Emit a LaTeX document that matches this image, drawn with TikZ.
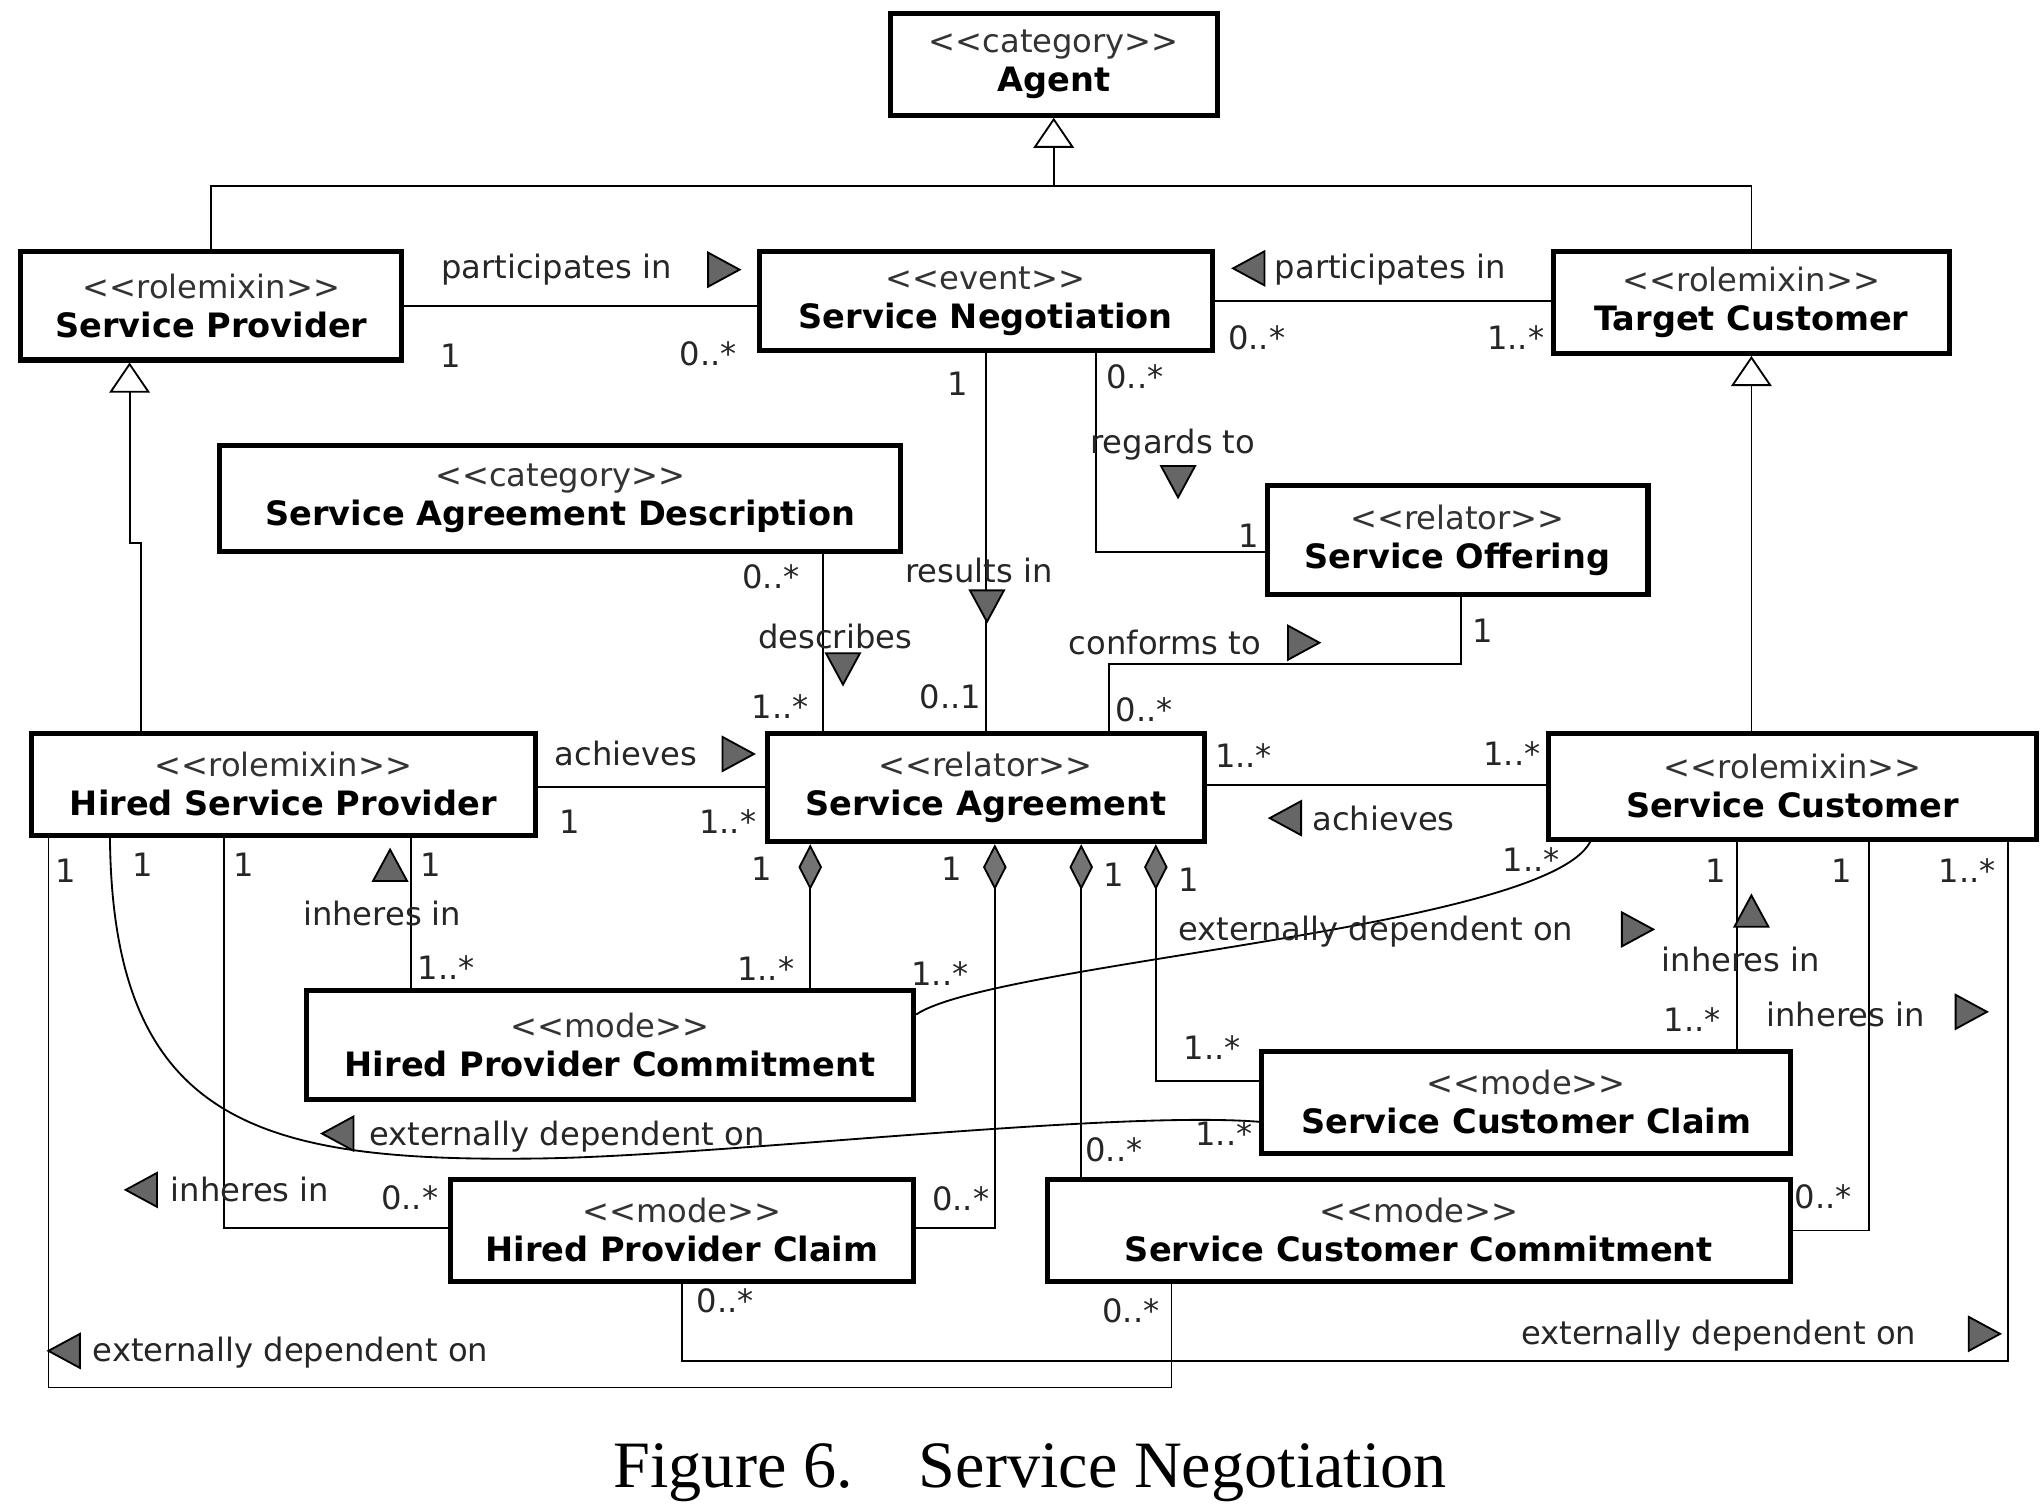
\documentclass[tikz,border=0pt]{standalone}
\usepackage{fontspec}
\setmainfont{DejaVu Sans}
\newfontfamily\capfont{Liberation Serif}
\usetikzlibrary{arrows.meta}

\newcommand\stereo[1]{{\color{black!80}<\kern0pt<#1>\kern0pt>}}
\newcommand\ctitle[1]{{\fontsize{14.6}{17}\selectfont\bfseries #1}}

\tikzset{
  cls/.style 2 args={draw, line width=2.2pt, fill=white, align=center, inner sep=0pt,
    minimum width=#1*0.02cm, minimum height=#2*0.02cm},
  assoc/.style={line width=0.8pt},
  gen/.style={assoc, -{Triangle[open, length=0.46cm, width=0.62cm]}},
  comp/.style={assoc, {Diamond[fill=black!55, length=0.7cm, width=0.36cm]}-},
  mult/.style={text=black!85},
  lbl/.style={text=black!85},
  rdir/.pic={\filldraw[fill=black!60, line width=0.8pt] (-11,-13) -- (13,0) -- (-11,13) -- cycle;}
}

\begin{document}
\begin{tikzpicture}[x=0.02cm, y=-0.02cm, font=\fontsize{14}{17}\selectfont]
    \useasboundingbox (0,0) rectangle (1560,1154);
    % classes
    \node[cls={250}{78}] (agent) at (805,49) {\stereo{category}\\\ctitle{Agent}};
    \node[cls={291}{83}] (sp) at (161.5,233.5) {\stereo{rolemixin}\\\ctitle{Service Provider}};
    \node[cls={346}{76}] (sn) at (753,230) {\stereo{event}\\\ctitle{Service Negotiation}};
    \node[cls={302}{78}] (tc) at (1338,231) {\stereo{rolemixin}\\\ctitle{Target Customer}};
    \node[cls={520}{81}] (sad) at (428,380.5) {\stereo{category}\\\ctitle{Service Agreement Description}};
    \node[cls={291}{83}] (so) at (1113.5,412.5) {\stereo{relator}\\\ctitle{Service Offering}};
    \node[cls={385}{78}] (hsp) at (216.5,599) {\stereo{rolemixin}\\\ctitle{Hired Service Provider}};
    \node[cls={334}{83}] (sa) at (753,601.5) {\stereo{relator}\\\ctitle{Service Agreement}};
    \node[cls={373}{81}] (sc) at (1369.5,600.5) {\stereo{rolemixin}\\\ctitle{Service Customer}};
    \node[cls={464}{83}] (hpcm) at (466,798.5) {\stereo{mode}\\\ctitle{Hired Provider Commitment}};
    \node[cls={404}{78}] (scc) at (1166,842) {\stereo{mode}\\\ctitle{Service Customer Claim}};
    \node[cls={354}{78}] (hpcl) at (521,940) {\stereo{mode}\\\ctitle{Hired Provider Claim}};
    \node[cls={568}{78}] (sccm) at (1084,940) {\stereo{mode}\\\ctitle{Service Customer Commitment}};

    % generalizations
    \draw[assoc] (sp.north) |- (tc.north |- 0,142) -- (tc.north);
    \draw[gen] (agent.south |- 0,142) -- (agent.south);
    \draw[gen] (sc.north -| tc.south) -- (tc.south);
    \draw[gen] (hsp.north -| 108,0) -- (108,415) -- (99,415) -- (sp.south -| 99,0);

    % associations
    \draw[assoc] (sp.east) -- (sp.east -| sn.west);
    \draw[assoc] (sn.east) -- (sn.east -| tc.west);
    \draw[assoc] (sn.south) -- (sa.north);
    \draw[assoc] (sn.south -| 837,0) |- (so.west |- 0,422);
    \draw[assoc] (sad.south -| 629,0) -- (sa.north -| 629,0);
    \draw[assoc] (so.south -| 1116,0) -- (1116,507) -| (sa.north -| 847,0);
    \draw[assoc] (hsp.east |- 0,601) -- (sa.west |- 0,601);
    \draw[assoc] (sa.east |- 0,600) -- (sc.west |- 0,600);

    % compositions
    \draw[comp] (sa.south -| 619,0) -- (hpcm.north -| 619,0);
    \draw[comp] (sa.south -| 760,0) |- (hpcl.east |- 0,938);
    \draw[comp] (sa.south -| 826,0) -- (sccm.north -| 826,0);
    \draw[comp] (sa.south -| 883,0) |- (scc.west |- 0,826);

    % inheres in
    \draw[assoc] (hsp.south -| 314,0) -- (hpcm.north -| 314,0);
    \draw[assoc] (sc.south -| 1327,0) -- (scc.north -| 1327,0);
    \draw[assoc] (sc.south -| 1428,0) |- (sccm.east |- 0,940);
    \draw[assoc] (hsp.south -| 171,0) |- (hpcl.west |- 0,938);

    % externally dependent on
    \draw[assoc] (hsp.south -| 84,0) .. controls (86,860) and (200,888) .. (413,885)
        .. controls (550,883) and (850,848) .. (scc.west |- 0,857);
    \draw[assoc] (sc.south -| 1215,0) .. controls (1180,710) and (760,735) .. (hpcm.east |- 0,775);
    \draw[assoc] (hsp.south -| 37,0) -- (37,1060) -| (sccm.south -| 895,0);
    \draw[assoc] (sc.south -| 1534,0) -- (1534,1040) -| (hpcl.south -| 521,0);

    % association names and reading directions
    \foreach \x/\y/\t [count=\i] in {425/206/participates in, 1062/206/participates in, 748/436/results in,
        896/340/regards to, 638/486/describes, 890/491/conforms to, 478/576/achieves, 1057/625/achieves,
        292/698/inheres in, 1330/733/inheres in, 1410/775/inheres in, 191/909/inheres in,
        433/868/externally dependent on, 1051/712/externally dependent on,
        222/1033/externally dependent on, 1313/1020/externally dependent on}
        {\node[lbl] (l\i) at (\x,\y) {\t};}
    \foreach \x/\y/\a in {552/206/0, 955/205/180, 754/462/-90, 900/367/-90, 644/510/-90, 995/491/0,
        563/576/0, 983/625/180, 298/662/90, 1338/697/90, 1505/773/0, 109/909/180, 259/866/180,
        1250/710/0, 50/1032/180, 1515/1019/0}
        {\pic[rotate=\a] at (\x,\y) {rdir};}

    % multiplicities
    \foreach \x/\y/\t [count=\i] in {344/272/1, 541/270/0..*, 960/258/0..*, 1158/258/1..*, 732/293/1,
        726/532/0..1, 867/288/0..*, 954/409/1, 589/441/0..*, 596/540/1..*, 1133/482/1, 874/542/0..*,
        435/628/1, 556/628/1..*, 950/577/1..*, 1155/576/1..*, 582/664/1, 585/740/1..*, 727/664/1,
        734/916/0..*, 851/668/1, 851/878/0..*, 908/672/1, 926/800/1..*, 329/661/1, 341/739/1..*,
        1311/665/1, 1293/779/1..*, 1407/665/1, 1393/914/0..*, 186/661/1, 313/915/0..*, 109/661/1,
        935/866/1..*, 1170/657/1..*, 718/744/1..*, 50/665/1, 864/1001/0..*, 1503/665/1..*, 554/994/0..*}
        {\node[mult] (m\i) at (\x,\y) {\t};}

    % caption
    \node[font=\capfont\fontsize{28.8}{34}\selectfont] (caption) at (787,1125) {Figure 6.\quad Service Negotiation};
\end{tikzpicture}
\end{document}
